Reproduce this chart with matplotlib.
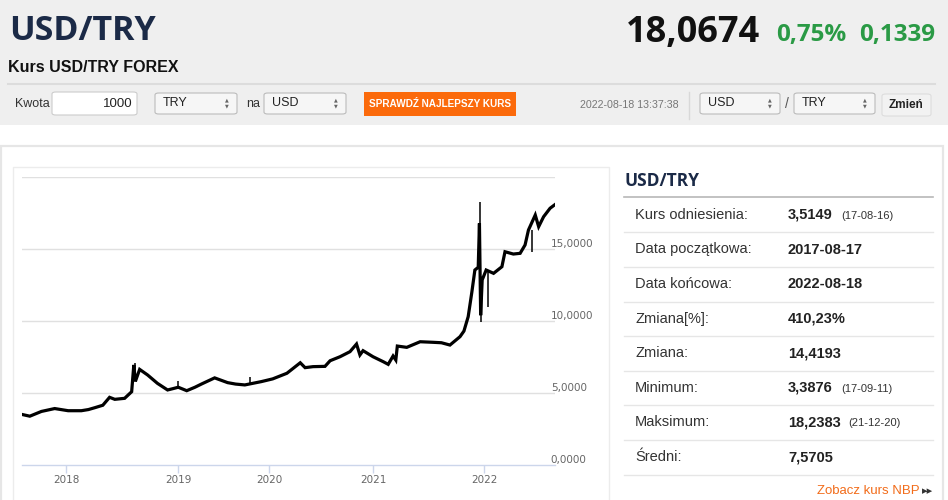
import numpy as np
import pandas as pd
import matplotlib
matplotlib.use("Agg")
import matplotlib.pyplot as plt
from matplotlib.patches import Rectangle, FancyBboxPatch

# %% data

dates = ['2017-08-17', '2017-09-11', '2017-10-17', '2017-11-27', '2018-01-08',
         '2018-02-20', '2018-03-15', '2018-04-05', '2018-05-01', '2018-05-23',
         '2018-06-09', '2018-07-11', '2018-08-03', '2018-08-10', '2018-08-15',
         '2018-08-29', '2018-09-24', '2018-10-26', '2018-11-28', '2018-12-15',
         '2019-01-02', '2019-02-05', '2019-03-10', '2019-04-06', '2019-05-28',
         '2019-07-19', '2019-08-20', '2019-09-26', '2019-12-01', '2020-01-14',
         '2020-03-04', '2020-04-20', '2020-05-07', '2020-06-04', '2020-07-16',
         '2020-08-03', '2020-09-07', '2020-10-12', '2020-11-04', '2020-11-16',
         '2020-11-27', '2021-01-01', '2021-02-04', '2021-02-20', '2021-03-08',
         '2021-03-17', '2021-03-22', '2021-04-22', '2021-06-05', '2021-07-18',
         '2021-08-14', '2021-09-11', '2021-10-14', '2021-10-27', '2021-11-10',
         '2021-11-22', '2021-12-02', '2021-12-13', '2021-12-17', '2021-12-21',
         '2021-12-26', '2022-01-08', '2022-02-01', '2022-02-28', '2022-03-10',
         '2022-04-06', '2022-04-28', '2022-05-14', '2022-05-25', '2022-06-16',
         '2022-06-27', '2022-07-13', '2022-08-03', '2022-08-18']
rate = [3.51, 3.39, 3.72, 3.92, 3.77,
        3.77, 3.85, 3.98, 4.15, 4.70,
        4.56, 4.63, 5.09, 6.95, 5.80,
        6.64, 6.25, 5.67, 5.21, 5.30,
        5.40, 5.16, 5.40, 5.63, 6.05,
        5.72, 5.62, 5.56, 5.79, 5.98,
        6.37, 7.10, 6.76, 6.83, 6.85,
        7.24, 7.52, 7.87, 8.40, 7.64,
        7.94, 7.52, 7.17, 6.99, 7.57,
        7.29, 8.26, 8.17, 8.56, 8.52,
        8.49, 8.33, 8.91, 9.30, 10.30,
        12.00, 13.54, 13.73, 16.78, 10.40,
        12.85, 13.54, 13.31, 13.77, 14.81,
        14.65, 14.70, 15.28, 16.32, 17.36,
        16.55, 17.24, 17.83, 18.07]

# thin high/low wicks
wick_dates = ['2018-08-13', '2019-01-03', '2019-10-16', '2021-12-20',
              '2021-12-21', '2022-01-13', '2022-06-06']
wick_low = [5.80, 5.30, 5.70, 16.00, 9.90, 11.00, 14.80]
wick_high = [7.05, 5.85, 6.10, 18.24, 12.50, 13.50, 16.30]

year_ticks = [2018, 2019, 2020, 2021, 2022]
value_ticks = [0, 5, 10, 15, 20]

stats_labels = ['Kurs odniesienia:', 'Data początkowa:', 'Data końcowa:', 'Zmiana[%]:',
                'Zmiana:', 'Minimum:', 'Maksimum:', 'Średni:']
stats_values = ['3,5149', '2017-08-17', '2022-08-18', '410,23%',
                '14,4193', '3,3876', '18,2383', '7,5705']
stats_dates = ['(17-08-16)', '', '', '', '', '(17-09-11)', '(21-12-20)', '']


def to_year(d):
    d = pd.to_datetime(pd.Series(d))
    days = np.where(d.dt.is_leap_year, 366.0, 365.0)
    return (d.dt.year + (d.dt.dayofyear - 1) / days).to_numpy()


x = to_year(dates)
wx = to_year(wick_dates)

# %% page layout, pixel helpers

W, H = 948, 500
fig = plt.figure(figsize=(W / 100, H / 100), dpi=100)
fig.patch.set_facecolor('white')


def fx(px):
    return px / W


def fy(py):
    return 1 - py / H


def rect(x0, y0, x1, y1, fc='none', ec='none', lw=1.0, z=0):
    fig.add_artist(Rectangle((fx(x0), fy(y1)), fx(x1) - fx(x0), fy(y0) - fy(y1),
                             transform=fig.transFigure, facecolor=fc,
                             edgecolor=ec, linewidth=lw, zorder=z))


def box(x0, y0, x1, y1, fc, ec, z=1):
    fig.add_artist(FancyBboxPatch((fx(x0), fy(y1)), fx(x1) - fx(x0), fy(y0) - fy(y1),
                                  boxstyle='round,pad=0,rounding_size=0.004',
                                  transform=fig.transFigure, facecolor=fc,
                                  edgecolor=ec, linewidth=0.8, zorder=z))


def hline(y, x0, x1, color, lw=1.0):
    fig.add_artist(plt.Line2D([fx(x0), fx(x1)], [fy(y), fy(y)],
                              transform=fig.transFigure, color=color, linewidth=lw))


def text(px, py, s, **kw):
    kw.setdefault('va', 'center')
    fig.text(fx(px), fy(py), s, **kw)


ARIAL = 'Liberation Sans'
NAVY = '#1b2a47'

# header band
rect(0, 0, W, 125, fc='#efefef')
rect(1, 146, 943, 520, fc='white', ec='#e6e6e6', lw=1.6)
rect(13, 167, 609, 520, fc='white', ec='#ececec', lw=1.0, z=1)

text(9, 31, 'USD/TRY', fontsize=24.5, fontweight='bold', family='Open Sans', color=NAVY)
text(8, 68, 'Kurs USD/TRY FOREX', fontsize=11.5, fontweight='bold', family=ARIAL, color='#111111')
text(760, 33, '18,0674', fontsize=26, fontweight='bold', family='Open Sans', color='#111111', ha='right')
text(846, 35, '0,75%', fontsize=17.5, fontweight='bold', family='Open Sans', color='#2a9a45', ha='right')
text(935, 35, '0,1339', fontsize=17.5, fontweight='bold', family='Open Sans', color='#2a9a45', ha='right')
hline(84, 8, 935, '#dcdcdc', lw=1.5)

# controls row
text(15, 104, 'Kwota', fontsize=9, family=ARIAL, color='#333333')
box(52, 92, 137, 115, '#ffffff', '#cccccc')
text(133, 104, '1000', fontsize=9.5, family=ARIAL, color='#222222', ha='right')
for x0, x1, lab in [(155, 237, 'TRY'), (264, 346, 'USD'), (700, 780, 'USD'), (794, 875, 'TRY')]:
    box(x0, 93, x1, 114, '#f6f6f6', '#bbbbbb')
    text(x0 + 8, 103, lab, fontsize=9, family=ARIAL, color='#222222')
    text(x1 - 10, 100, '▲', fontsize=3.5, color='#666666', ha='center')
    text(x1 - 10, 106, '▼', fontsize=3.5, color='#666666', ha='center')
text(246, 104, 'na', fontsize=9, family=ARIAL, color='#333333')
rect(364, 92, 516, 116, fc='#fb6a0b', z=1)
text(440, 104, 'SPRAWDŹ NAJLEPSZY KURS', fontsize=7.2, fontweight='bold', family=ARIAL,
     color='white', ha='center', zorder=2)
text(580, 105, '2022-08-18 13:37:38', fontsize=7.7, family=ARIAL, color='#777777')
fig.add_artist(plt.Line2D([fx(689), fx(689)], [fy(92), fy(119)], transform=fig.transFigure,
                          color='#d8d8d8', linewidth=1))
text(787, 104, '/', fontsize=10, family=ARIAL, color='#555555', ha='center')
box(882, 94, 931, 116, '#f2f2f2', '#dddddd')
text(906, 105, 'Zmień', fontsize=8.5, fontweight='bold', family=ARIAL, color='#222222', ha='center')

# %% chart

anchor_years = [2017.627, 2018, 2019, 2020, 2021, 2022, 2022.63]
anchor_px = [22, 66, 178, 269, 373, 484, 555]


def fwd(v):
    return np.interp(v, anchor_years, anchor_px)


def inv(v):
    return np.interp(v, anchor_px, anchor_years)


ax = fig.add_axes([fx(22), fy(465), fx(555) - fx(22), fy(177) - fy(465)], zorder=3)
ax.set_xscale('function', functions=(fwd, inv))
ax.set_facecolor('none')
ax.set_xlim(2017.627, 2022.63)
ax.set_ylim(0, 20)

ax.plot(x, rate, color='black', linewidth=2.3, solid_joinstyle='miter', zorder=3)
ax.vlines(wx, wick_low, wick_high, color='black', linewidth=1.1, zorder=3)

for v in value_ticks[1:]:
    ax.axhline(v, color='#e0e0e0', linewidth=1.0, zorder=1)
for s in ['top', 'left', 'right']:
    ax.spines[s].set_visible(False)
ax.spines['bottom'].set_color('#ccd6eb')
ax.spines['bottom'].set_linewidth(1.0)

ax.set_xticks(year_ticks)
ax.set_xticklabels([str(y) for y in year_ticks], fontsize=7.5, color='#666666')
ax.tick_params(axis='x', length=5.5, width=1, color='#ccd6eb', pad=2)
ax.set_xticks([], minor=True)

ax.yaxis.tick_right()
ax.set_yticks(value_ticks[:-1])
ax.set_yticklabels([f'{v:.4f}'.replace('.', ',') for v in value_ticks[:-1]],
                   fontsize=7.5, color='#666666')
ax.tick_params(axis='y', length=0, pad=-3)
for lbl in ax.get_yticklabels():
    lbl.set_ha('left')
    lbl.set_va('bottom')

# %% stats panel

text(625, 181, 'USD/TRY', fontsize=12.5, fontweight='bold', family='Open Sans', color=NAVY)
hline(196.5, 624, 933, '#b8b8b8', lw=1.2)
seps = [232.4, 267, 301.6, 336.2, 370.8, 405.4, 440, 474.6]
for i, lab in enumerate(stats_labels):
    yc = seps[i] - 17.5
    text(635, yc, lab, fontsize=10.5, family=ARIAL, color='#333333')
    text(788, yc, stats_values[i], fontsize=10.5, fontweight='bold', family=ARIAL, color='#222222')
    if stats_dates[i]:
        off = 841 if len(stats_values[i]) == 6 else 848
        text(off, yc + 1, stats_dates[i], fontsize=8, family=ARIAL, color='#333333')
    hline(seps[i], 624, 933, '#e6e6e6', lw=1.0)

text(920, 491, 'Zobacz kurs NBP', fontsize=9.5, family=ARIAL, color='#f26c1a', ha='right')
text(928, 491, '▸▸', fontsize=8, family='DejaVu Sans', color='#333333', ha='center')

fig.savefig('out.png', dpi=100)
